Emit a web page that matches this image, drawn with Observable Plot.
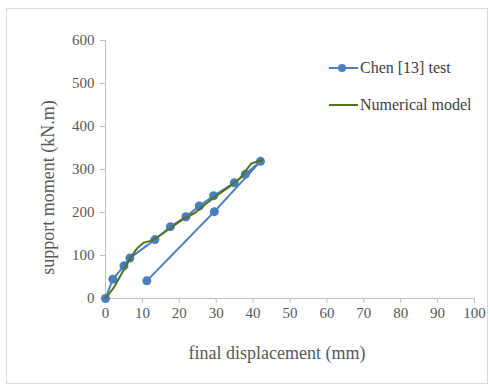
<!DOCTYPE html>
<html><head><meta charset="utf-8">
<script src="https://cdn.jsdelivr.net/npm/d3@7"></script>
<script src="https://cdn.jsdelivr.net/npm/@observablehq/plot@0.6"></script>
<style>
body{margin:0;background:#fff;font-family:"Liberation Serif","DejaVu Serif",serif;}
#wrap{position:relative;width:490px;height:387px;}
#frame{position:absolute;left:6px;top:8px;width:482px;height:376px;border:1px solid #d9d9d9;box-sizing:border-box;pointer-events:none;}
.leg{position:absolute;font-size:16px;color:#404040;display:flex;align-items:center;white-space:nowrap;}
.leg svg{margin-right:2px;}
</style></head><body>
<div id="wrap"><div id="frame"></div>
<div class="leg" style="left:329px;top:59px;"><svg width="29" height="16"><line x1="0" y1="8" x2="29" y2="8" stroke="#4a7ebf" stroke-width="2"/><circle cx="13" cy="8" r="4" fill="#4a7ebf"/></svg>Chen [13] test</div>
<div class="leg" style="left:329px;top:96px;"><svg width="29" height="16"><line x1="0" y1="8" x2="29" y2="8" stroke="#55731f" stroke-width="2"/></svg>Numerical model</div>
</div>
<script>
const testX = [0, 2.0, 5.0, 6.6, 13.4, 17.6, 21.8, 25.4, 29.3, 34.9, 37.9, 42.0, 29.5, 11.2];
const testY = [0, 45, 76, 94, 137, 167, 190, 215, 239, 269, 289, 319, 202, 41];
const modelX = [0, 2.3, 4.5, 6.8, 8.6, 10.4, 12.2, 14.0, 17.6, 21.2, 24.4, 26.6, 29.4, 33.9, 36.6, 39.5, 42.5];
const modelY = [0, 26, 60, 95, 117, 130, 134, 142, 164, 185, 200, 216, 235, 262, 281, 314, 322];
const xTicks = [0,10,20,30,40,50,60,70,80,90,100];
const yTicks = [0,100,200,300,400,500,600];

const test = testX.map((x,i)=>({x, y: testY[i]}));
const model = modelX.map((x,i)=>({x, y: modelY[i]}));
const gray = "#bfbfbf";
const serif = '"Liberation Serif","DejaVu Serif",serif';
const chart = Plot.plot({
  width: 490, height: 387,
  marginLeft: 105, marginRight: 16, marginTop: 40, marginBottom: 89,
  style: {fontFamily: serif, fontSize: "15px", color: "#595959", background: "transparent"},
  x: {domain: [0,100]},
  y: {domain: [0,600]},
  marks: [
    Plot.ruleY([0], {stroke: gray, strokeWidth: 1}),
    Plot.ruleX([0], {stroke: gray, strokeWidth: 1}),
    Plot.axisX({ticks: xTicks, tickSize: 5, stroke: gray, tickPadding: 4, fill: "#595959", fontFamily: serif, fontVariant: "normal",
      label: "final displacement (mm)", labelAnchor: "center", labelArrow: "none", labelOffset: 60}),
    Plot.axisY({ticks: yTicks, tickSize: 5, stroke: gray, tickPadding: 6, fill: "#595959", fontFamily: serif, fontVariant: "normal",
      label: "support moment (kN.m)", labelAnchor: "center", labelArrow: "none", labelOffset: 62}),
    Plot.line(test, {x: "x", y: "y", stroke: "#4a7ebf", strokeWidth: 2}),
    Plot.dot(test, {x: "x", y: "y", fill: "#4a7ebf", r: 4.5}),
    Plot.line(model, {x: "x", y: "y", stroke: "#55731f", strokeWidth: 2})
  ]
});
chart.style.position = "absolute"; chart.style.left = "0"; chart.style.top = "0";
chart.querySelectorAll("g, text").forEach(el => { el.style.fontFamily = serif; });
const xl = chart.querySelector('[aria-label="x-axis label"]');
if (xl) { xl.querySelectorAll("text").forEach(t => { t.style.fontSize = "18px"; t.setAttribute("fill", "#595959"); }); xl.setAttribute("transform", (xl.getAttribute("transform")||"") + " translate(-13,0)"); }
const yl = chart.querySelector('[aria-label="y-axis label"]');
if (yl) { yl.querySelectorAll("text").forEach(t => { t.style.fontSize = "18px"; t.setAttribute("fill", "#595959"); }); yl.setAttribute("transform", (yl.getAttribute("transform")||"") + " translate(-2,18)"); }
document.getElementById("wrap").prepend(chart);
</script>
</body></html>
